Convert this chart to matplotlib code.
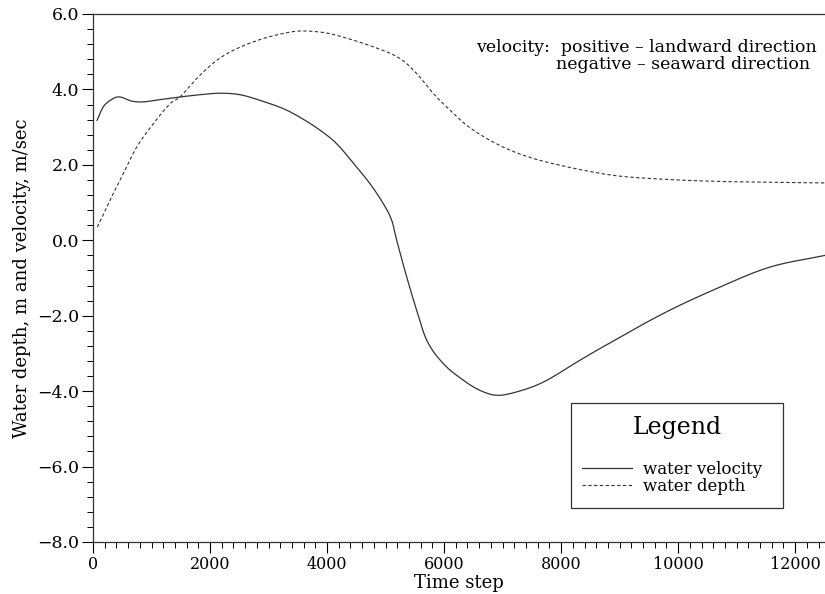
import numpy as np
import matplotlib
matplotlib.use("Agg")
import matplotlib.pyplot as plt
from matplotlib.ticker import MultipleLocator, FuncFormatter
from matplotlib.patches import Rectangle

# water velocity, m/sec
vel_t = [70, 176, 347, 461, 661, 860, 1145, 1487, 1829, 2170, 2512, 2854,
         3253, 3550, 3880, 4165, 4478, 4734, 4962, 5105, 5190, 5361, 5532,
         5703, 5987, 6329, 6614, 6900, 7241, 7696, 8323, 8665, 9747, 10716,
         11570, 12510]
vel_v = [3.18, 3.54, 3.76, 3.80, 3.69, 3.67, 3.73, 3.80, 3.86, 3.90, 3.86,
         3.71, 3.49, 3.25, 2.92, 2.56, 1.99, 1.50, 0.97, 0.53, 0.0, -0.97,
         -1.86, -2.65, -3.27, -3.71, -3.98, -4.11, -4.02, -3.76, -3.18,
         -2.87, -1.94, -1.24, -0.71, -0.40]

# water depth, m
dep_t = [74, 290, 518, 746, 1031, 1316, 1487, 1772, 2114, 2455, 2911, 3367,
         3594, 3936, 4221, 4791, 5247, 5532, 5817, 6101, 6386, 6728, 7127,
         7525, 7867, 8437, 9006, 9861, 10716, 11570, 12510]
dep_v = [0.35, 1.06, 1.77, 2.47, 3.09, 3.62, 3.80, 4.29, 4.77, 5.08, 5.35,
         5.52, 5.55, 5.51, 5.41, 5.13, 4.82, 4.42, 3.89, 3.45, 3.05, 2.70,
         2.39, 2.17, 2.03, 1.84, 1.70, 1.61, 1.56, 1.54, 1.52]


def smooth(t, v):
    # cubic hermite through the read points
    t = np.asarray(t, float)
    v = np.asarray(v, float)
    n = len(t)
    xs, ys = [], []
    for i in range(n - 1):
        t0, t1 = t[i], t[i + 1]
        v0, v1 = v[i], v[i + 1]
        a, b = max(i - 1, 0), min(i + 1, n - 1)
        m0 = (v[b] - v[a]) / (t[b] - t[a])
        a, b = i, min(i + 2, n - 1)
        m1 = (v[b] - v[a]) / (t[b] - t[a])
        s = np.linspace(0, 1, 20, endpoint=False)
        h = t1 - t0
        xs.append(t0 + s * h)
        ys.append((2 * s**3 - 3 * s**2 + 1) * v0 + (s**3 - 2 * s**2 + s) * h * m0
                  + (-2 * s**3 + 3 * s**2) * v1 + (s**3 - s**2) * h * m1)
    xs.append([t[-1]])
    ys.append([v[-1]])
    return np.concatenate(xs), np.concatenate(ys)


plt.rcParams['font.family'] = ['DejaVu Serif']

fig = plt.figure(figsize=(8.25, 5.94), dpi=100)
ax = fig.add_axes([93 / 825, 52 / 594, 732 / 825, 528 / 594])

x1, y1 = smooth(vel_t, vel_v)
x2, y2 = smooth(dep_t, dep_v)
l1, = ax.plot(x1, y1, color='#333333', lw=0.9, label='water velocity')
l2, = ax.plot(x2, y2, color='#333333', lw=0.8, dashes=(3, 2.2), label='water depth')

ax.set_xlim(0, 12510)
ax.set_ylim(-8, 6)
ax.xaxis.set_major_locator(MultipleLocator(2000))
ax.xaxis.set_minor_locator(MultipleLocator(200))
ax.yaxis.set_major_locator(MultipleLocator(2))
ax.yaxis.set_minor_locator(MultipleLocator(0.4))
ax.yaxis.set_major_formatter(FuncFormatter(lambda v, p: ('%.1f' % v).replace('-', '\u2212')))
ax.tick_params(which='major', direction='out', length=8, width=0.8, pad=2)
ax.tick_params(which='minor', direction='out', length=4.5, width=0.7)
ax.tick_params(axis='x', labelsize=11.5)
ax.tick_params(axis='y', labelsize=12.5)
ax.spines['right'].set_visible(False)
for s in ['left', 'bottom', 'top']:
    ax.spines[s].set_linewidth(0.9)
    ax.spines[s].set_color('#333333')

ax.set_xlabel('Time step', fontsize=13, labelpad=1)
ax.set_ylabel('Water depth, m and velocity, m/sec', fontsize=13, labelpad=4)

# note in top right
ax.text(0.989, 0.936, 'velocity:  positive \u2013 landward direction', transform=ax.transAxes,
        ha='right', va='center', fontsize=12.5)
ax.text(0.9795, 0.905, 'negative \u2013 seaward direction', transform=ax.transAxes,
        ha='right', va='center', fontsize=12.5)

# legend box
bx0, by0 = (571 - 93) / 732, (542 - 508) / 528
bw, bh = (783 - 571) / 732, (508 - 403) / 528
ax.add_patch(Rectangle((bx0, by0), bw, bh, transform=ax.transAxes, fill=False,
                       edgecolor='#333333', lw=0.9))
ax.text(bx0 + bw / 2, by0 + bh * 0.77, 'Legend', transform=ax.transAxes,
        ha='center', va='center', fontsize=17)
ax.legend(handles=[l1, l2], loc='upper left', bbox_to_anchor=(bx0 + 0.003, by0 + bh * 0.53),
          frameon=False, fontsize=12, handlelength=3.0, handletextpad=0.7,
          labelspacing=0.0, borderpad=0)

fig.savefig('out.png', dpi=100)
